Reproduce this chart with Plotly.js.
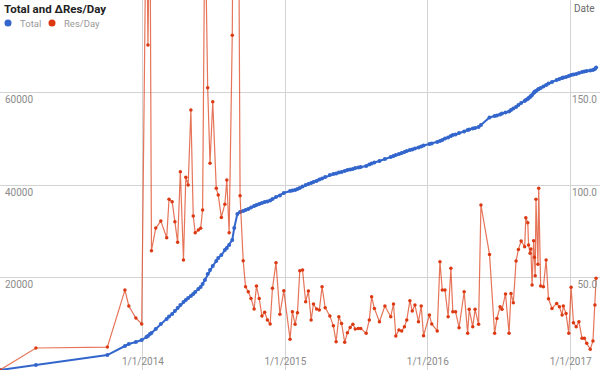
<!DOCTYPE html>
<html><head><meta charset="utf-8">
<script src="https://cdn.plot.ly/plotly-3.0.1.min.js"></script>
<style>html,body{margin:0;padding:0;background:#fff}#chart{width:600px;height:370px}</style>
</head><body><div id="chart"></div>
<script>
const dates = ["2012-12-31","2013-04-02","2013-10-02","2013-11-16","2013-11-26","2013-12-14","2013-12-29",
"2014-01-10","2014-01-14","2014-01-19","2014-01-23","2014-02-03","2014-02-16","2014-03-03","2014-03-09","2014-03-17","2014-03-24","2014-03-31",
"2014-04-07","2014-04-15","2014-04-21","2014-04-27","2014-05-04","2014-05-10","2014-05-15","2014-05-23","2014-05-29","2014-06-03","2014-06-09",
"2014-06-16","2014-06-22","2014-06-29","2014-07-08","2014-07-13","2014-07-21","2014-07-30","2014-08-04","2014-08-10","2014-08-18","2014-08-23",
"2014-08-31","2014-09-07","2014-09-15","2014-09-21","2014-09-28","2014-10-05","2014-10-13","2014-10-19","2014-10-26","2014-11-02","2014-11-09",
"2014-11-16","2014-11-23","2014-11-29","2014-12-08","2014-12-18","2014-12-28",
"2015-01-13","2015-01-19","2015-01-26","2015-02-01","2015-02-07","2015-02-14","2015-02-22","2015-03-01","2015-03-08","2015-03-14","2015-03-22",
"2015-03-29","2015-04-05","2015-04-13","2015-04-25","2015-05-04","2015-05-11","2015-05-18","2015-05-25","2015-06-02","2015-06-09","2015-06-16",
"2015-06-23","2015-06-29","2015-07-07","2015-07-13","2015-07-27","2015-08-04","2015-08-10","2015-08-17","2015-08-30","2015-09-13","2015-09-28",
"2015-10-05","2015-10-11","2015-10-19","2015-10-26","2015-11-02","2015-11-08","2015-11-16","2015-11-22","2015-11-29","2015-12-08","2015-12-15",
"2015-12-21",
"2016-01-05","2016-01-11","2016-01-25","2016-02-01","2016-02-07","2016-02-14","2016-02-22","2016-02-29","2016-03-05","2016-03-12","2016-03-21",
"2016-04-03","2016-04-12","2016-04-16","2016-04-25","2016-05-01","2016-05-10","2016-05-16","2016-06-07","2016-06-20","2016-06-26","2016-07-04",
"2016-07-09","2016-07-18","2016-07-27","2016-08-01","2016-08-07","2016-08-14","2016-08-20","2016-08-27","2016-09-05","2016-09-08","2016-09-13",
"2016-09-15","2016-09-19","2016-09-21","2016-09-24","2016-09-28","2016-09-30","2016-10-02","2016-10-04","2016-10-09","2016-10-11","2016-10-16",
"2016-10-23","2016-10-30","2016-11-05","2016-11-14","2016-11-26","2016-12-03","2016-12-10","2016-12-13","2016-12-20","2016-12-27",
"2017-01-02","2017-01-08","2017-01-15","2017-01-22","2017-01-30","2017-02-05","2017-02-11","2017-02-20","2017-02-27","2017-03-04","2017-03-07"];

const total = [0,1080,3240,5190,5620,6050,6490,
7130,7350,7780,8000,8860,9950,11030,11570,12110,12760,13400,
14050,14700,15130,15570,16000,16430,16860,17510,17940,18590,19460,
20760,21620,22480,23570,24210,24860,25940,26380,27030,28110,30700,
33730,34160,34380,34590,34810,35130,35460,35670,35890,36110,36320,
36430,36650,36970,37400,37730,38270,
38700,38810,38920,39130,39350,39670,40000,40210,40430,40650,40860,
41190,41400,41730,42160,42380,42480,42700,42810,43020,43240,43350,
43460,43670,43780,43890,44100,44430,44650,44860,45190,45620,46050,
46270,46490,46700,46920,47130,47350,47560,47670,47890,48110,48320,
48540,
48860,48970,49290,49510,49730,50050,50270,50590,50810,50920,51240,
51570,51890,52000,52220,52320,52540,52970,54590,54910,55020,55240,
55460,55670,55890,56210,56540,56860,57290,57730,58160,58370,58590,
58810,59020,59240,59460,59890,60100,60210,60320,60640,60750,60970,
61290,61620,61940,62270,62700,62910,63130,63240,63350,63560,
63780,63890,64000,64210,64430,64540,64650,64760,64860,65080,65400];

const resPerDay = [0,11.9,12.4,43.2,34.6,28.1,24.9,
260,175.7,260,64.5,76.7,80.5,71.5,92.3,91,80.2,69,
107.2,59.5,104.2,100,140.5,83.2,74.2,75.7,76.6,86.5,250,
152.6,111.7,145,98.2,94.6,82.5,89.6,102.7,74.2,181,350,
400,94.2,59,45,42.3,38.7,33,45.4,38.7,29.2,31.2,
27,24.9,44.2,58,30.1,42.9,
16.6,31.5,24.7,31,53.7,54,36.9,42.7,27,35.7,33,
32.4,45,33.7,29.2,23.9,15.3,28.8,25.2,15,20.2,23,
24.7,22.2,22.5,22.5,19.8,27,39.6,33.3,26.1,34.6,28.8,
35.7,18.4,21.6,21.1,23.4,27,37.5,31.9,35.1,26.1,34.6,
18.5,
29.7,24.9,21.1,58.5,43.2,43.2,28.8,55,31.5,31.5,22.9,
42.3,19.8,32.8,23.4,32.8,24.7,89.2,62.5,19.8,27.9,34.2,
32.8,41.1,19.8,41.4,36.4,58.9,65.2,69.7,66.6,82.3,79.6,
67.6,63.1,65.4,45.9,69.9,60.9,51,92.3,57.1,98.2,45.4,
45,59.5,38.5,33.3,36,34.2,29.7,34.6,30.6,19.8,
44.7,25.6,23.4,26.1,17.1,17.1,14.4,11.2,15.7,35.1,49.6];

const seriesNames = ["Total", "Res/Day"];
const chartTitle = "Total and ΔRes/Day";
const xAxisName = "Date";
const xRange = ["2012-12-31", "2017-03-17"];
const leftTicks = [0, 20000, 40000, 60000, 80000];
const leftTickText = ["", "20000", "40000", "60000", ""];
const rightTicks = [50, 100, 150];
const rightTickText = ["50.0", "100.0", "150.0"];

const BLUE = "#3366cc", RED = "#dc3912", TICK = "#8a8a8a", GRID = "#d3d3d3";
const FONT = "Roboto, Arial, sans-serif";

const traces = [
  {x: dates, y: total, name: seriesNames[0], type: "scatter", mode: "lines+markers",
   line: {color: BLUE, width: 2}, marker: {color: BLUE, size: 4}, yaxis: "y", showlegend: false},
  {x: dates, y: resPerDay, name: seriesNames[1], type: "scatter", mode: "lines+markers",
   line: {color: "rgba(220,57,18,0.7)", width: 1.2}, marker: {color: RED, size: 3.5}, yaxis: "y2", showlegend: false}
];

function py(p) { return 1 - p / 370; }
function px(p) { return p / 600; }

const layout = {
  width: 600, height: 370,
  margin: {l: 0, r: 0, t: 0, b: 0, pad: 0},
  paper_bgcolor: "#fff", plot_bgcolor: "#fff",
  font: {family: FONT, size: 10, color: TICK},
  showlegend: false,
  title: {text: "<b>" + chartTitle + "</b>", x: px(4), xref: "container", xanchor: "left",
          y: py(9), yref: "container", yanchor: "middle",
          font: {family: FONT, size: 11.5, color: "#222"}},
  xaxis: {type: "date", range: xRange, tick0: "2014-01-01", dtick: "M12", tickformat: "%-m/%-d/%Y",
          ticklabelposition: "inside", showgrid: true, gridcolor: GRID, gridwidth: 1, zeroline: false,
          showline: false, ticks: "", tickfont: {family: FONT, size: 10, color: TICK}},
  yaxis: {range: [0, 80000], tickvals: leftTicks, ticktext: leftTickText, ticklabelposition: "inside bottom",
          ticklabelstandoff: 3,
          showgrid: true, gridcolor: GRID, gridwidth: 1, zeroline: false, showline: true, linecolor: GRID, linewidth: 2,
          ticks: "", tickfont: {family: FONT, size: 10, color: TICK}},
  yaxis2: {range: [0, 200], overlaying: "y", side: "right", tickvals: rightTicks, ticktext: rightTickText,
           ticklabelposition: "inside bottom", showgrid: false, zeroline: false, ticks: "",
           tickfont: {family: FONT, size: 10, color: TICK}},
  shapes: [
    {type: "circle", xref: "paper", yref: "paper", xsizemode: "pixel", ysizemode: "pixel",
     xanchor: px(8), yanchor: py(23), x0: -3.5, x1: 3.5, y0: -3.5, y1: 3.5, fillcolor: BLUE, line: {width: 0}},
    {type: "circle", xref: "paper", yref: "paper", xsizemode: "pixel", ysizemode: "pixel",
     xanchor: px(52), yanchor: py(23), x0: -3.5, x1: 3.5, y0: -3.5, y1: 3.5, fillcolor: RED, line: {width: 0}}
  ],
  annotations: [
    {text: seriesNames[0], xref: "paper", yref: "paper", x: px(18), y: py(23), xanchor: "left", yanchor: "middle",
     showarrow: false, font: {family: FONT, size: 9.5, color: "#999"}},
    {text: seriesNames[1], xref: "paper", yref: "paper", x: px(62), y: py(23), xanchor: "left", yanchor: "middle",
     showarrow: false, font: {family: FONT, size: 9.5, color: "#999"}},
    {text: xAxisName, xref: "paper", yref: "paper", x: px(597), y: py(8), xanchor: "right", yanchor: "middle",
     showarrow: false, font: {family: FONT, size: 10, color: "#6a6a6a"}}
  ]
};

Plotly.newPlot("chart", traces, layout, {displayModeBar: false, staticPlot: true});
</script>
</body></html>
